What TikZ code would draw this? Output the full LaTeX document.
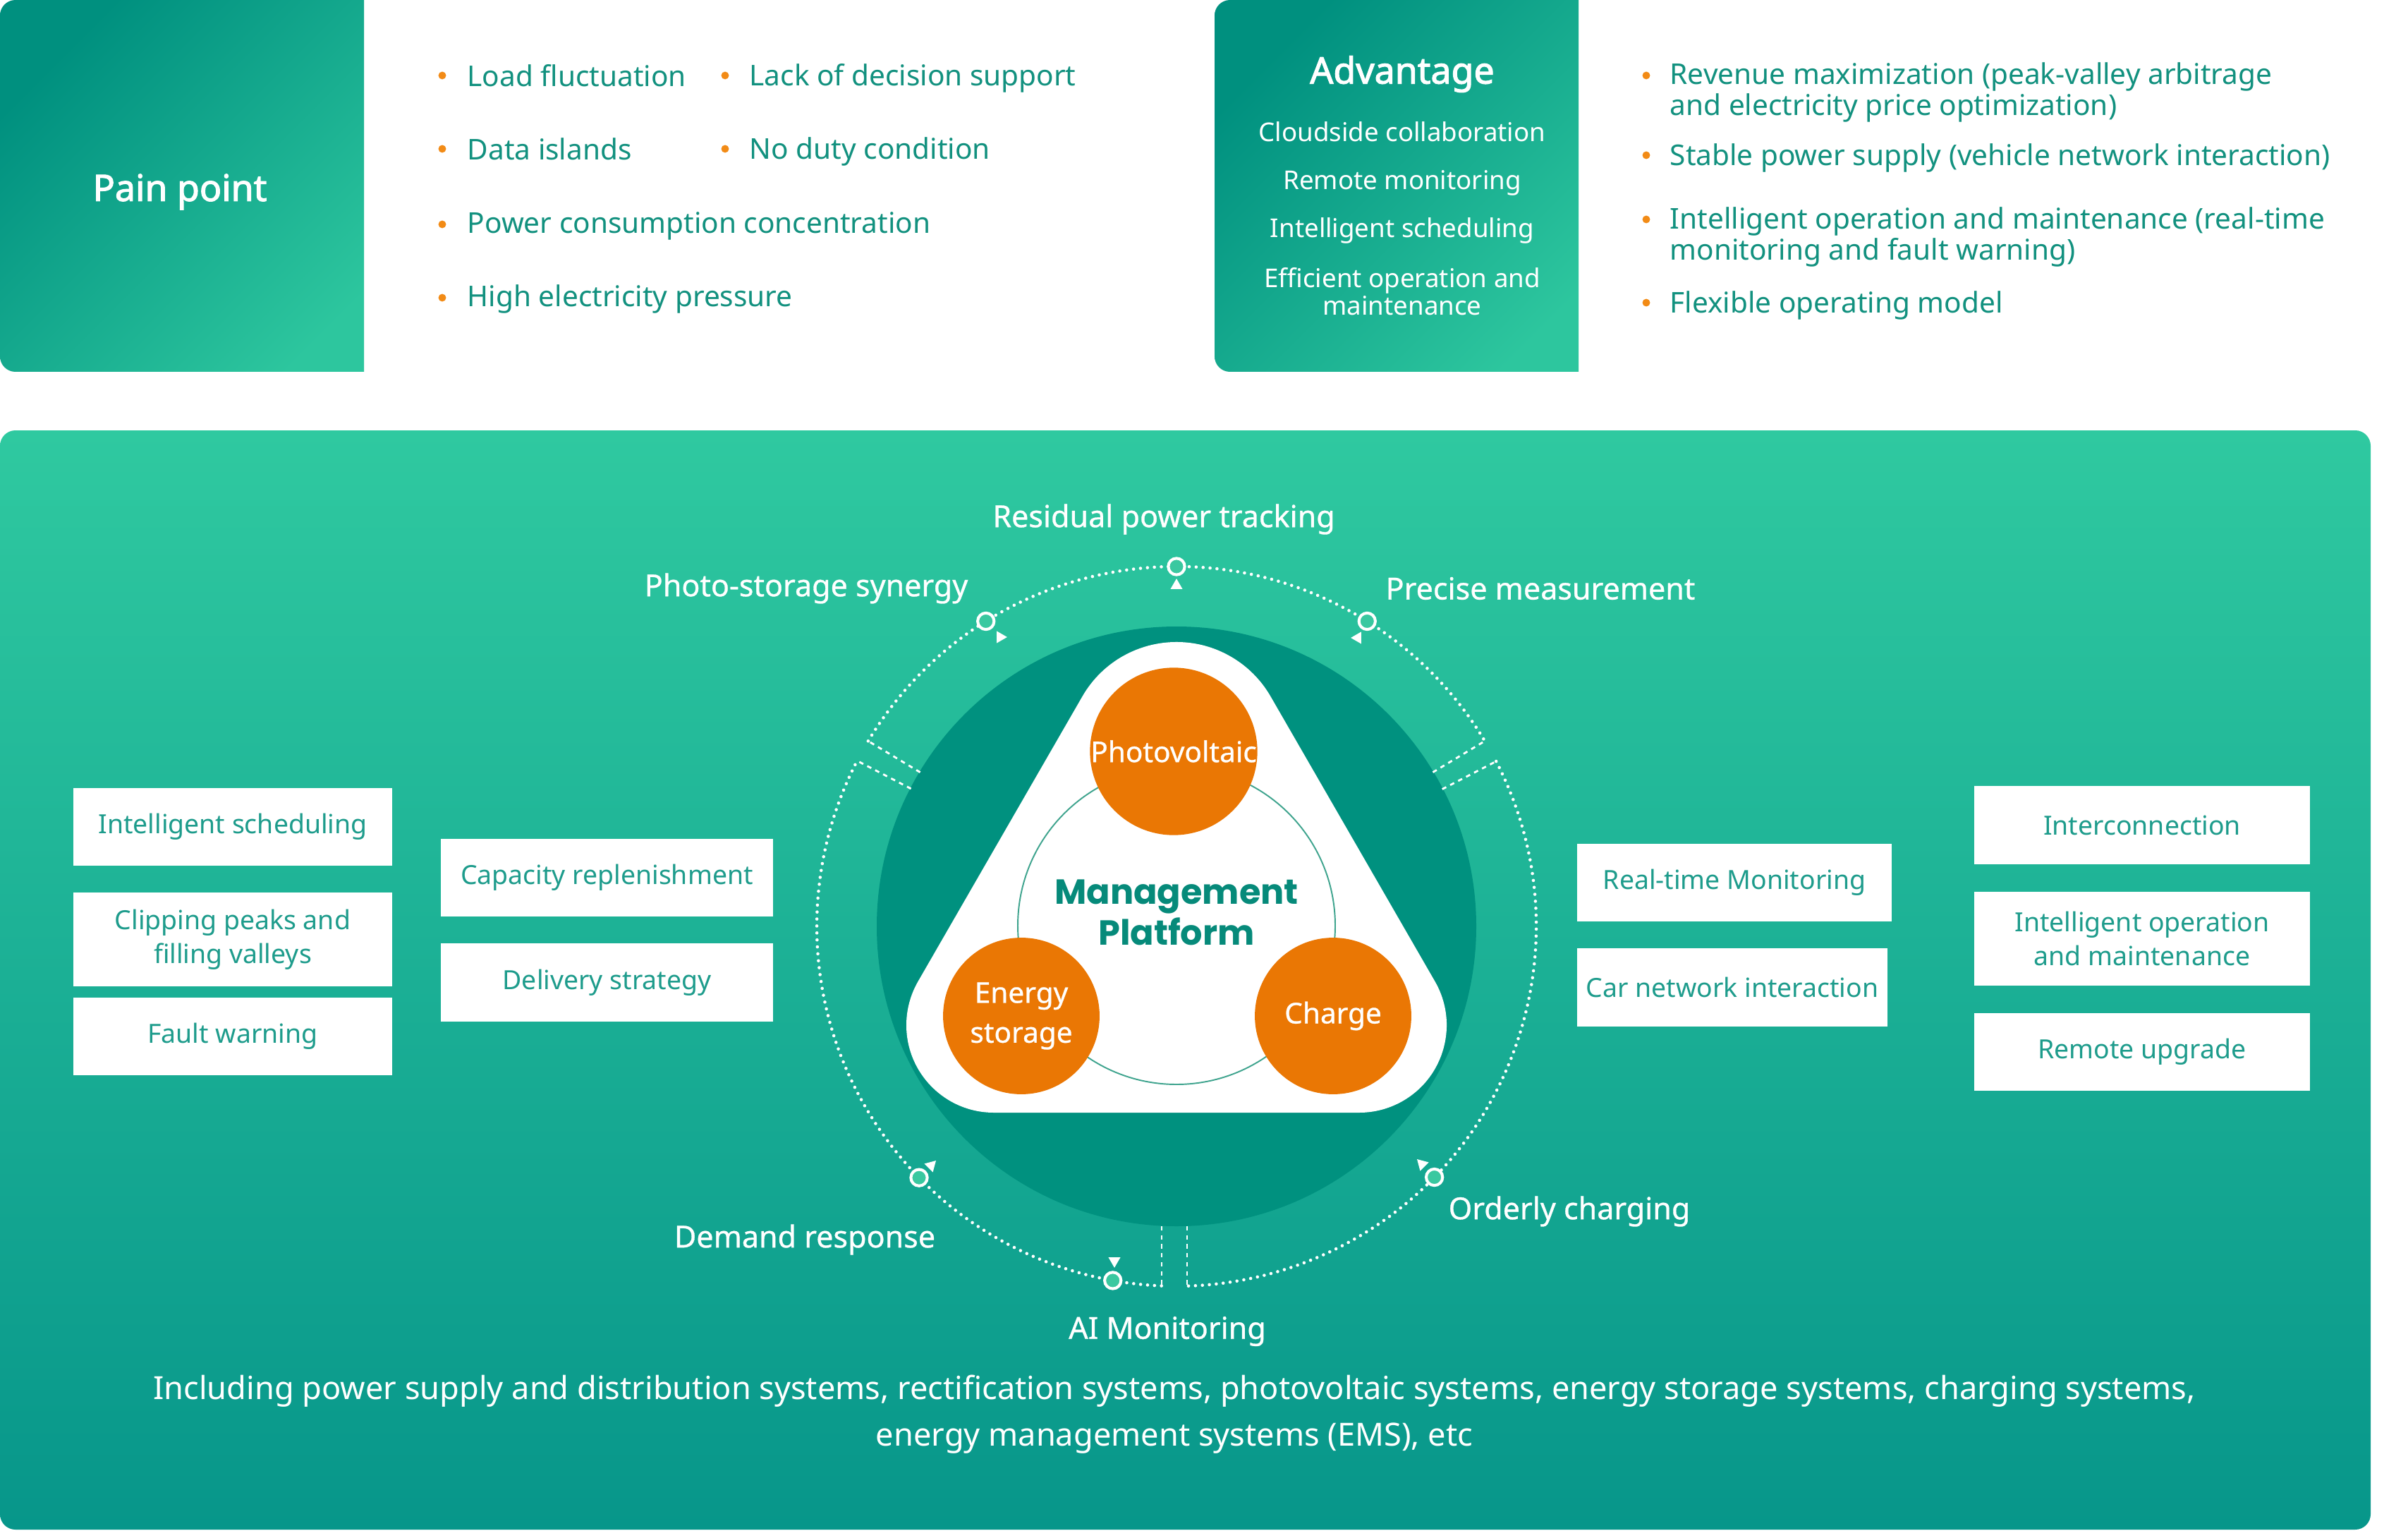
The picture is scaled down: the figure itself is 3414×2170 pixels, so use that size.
\documentclass[tikz,border=0pt]{standalone}
\usepackage{fontspec}
\setmainfont{Noto Sans}
\newfontfamily\headfont{Noto Sans}[FakeBold=2.2]
\newfontfamily\medfont{Noto Sans}[FakeBold=0.7]
\newfontfamily\mgmtfont{Poppins}
\usetikzlibrary{shapes.geometric}
\definecolor{tealdark}{HTML}{00907F}
\definecolor{teallight}{HTML}{2DC69E}
\definecolor{paneltop}{HTML}{2FC9A0}
\definecolor{panelbot}{HTML}{07968A}
\definecolor{circdark}{HTML}{00917F}
\definecolor{orangec}{HTML}{EA7704}
\definecolor{bulletc}{HTML}{F28B16}
\definecolor{txtteal}{HTML}{12917F}
\definecolor{boxteal}{HTML}{1E9C8C}
\definecolor{mgmt}{HTML}{068A7A}
\definecolor{thinring}{HTML}{3FA48E}
\definecolor{dotfill}{HTML}{3AC8A0}
\begin{document}
\begin{tikzpicture}[x=0.2835pt,y=-0.2835pt,
  headtxt/.style={inner sep=0,text=white,font=\headfont\fontsize{14.7}{17}\selectfont},
  advtxt/.style={inner sep=0,text=white,font=\fontsize{10.4}{11.1}\selectfont,align=center},
  btxt/.style={anchor=west,inner sep=0,text=txtteal,font=\fontsize{11.5}{11.1}\selectfont},
  bdot/.style={circle,fill=bulletc,inner sep=0,minimum size=3.1pt},
  ringdot/.style={white,line width=1.3pt,line cap=round,dash pattern=on 0pt off 2.8pt},
  ringdash/.style={white,line width=0.8pt,dash pattern=on 1.8pt off 1.8pt},
  ringnode/.style={circle,draw=white,line width=1.15pt,fill=dotfill,minimum size=6.6pt,inner sep=0},
  tri/.style={regular polygon,regular polygon sides=3,fill=white,inner sep=0,minimum size=5.6pt},
  orb/.style={circle,fill=orangec,minimum size=62.9pt,inner sep=0,text=white,font=\medfont\fontsize{11.5}{16}\selectfont,align=center},
  ringlbl/.style={inner sep=0,text=white,font=\medfont\fontsize{12.2}{14}\selectfont},
  wbox/.style={fill=white,inner sep=0,text=boxteal,font=\fontsize{10.6}{13.6}\selectfont,align=center},
  bottomtxt/.style={inner sep=0,text=white,font=\fontsize{12.8}{18.7}\selectfont,align=center}]
\useasboundingbox (0,0) rectangle (3414,2170);
\fill[white] (0,0) rectangle (3414,2170);

% ---------- top: pain point ----------
\begin{scope}
  \clip (0,0) rectangle (516,527);
  \shade[top color=tealdark,bottom color=teallight,shading angle=45,rounded corners=6.2pt] (0,0) rectangle (570,527);
\end{scope}
\node[headtxt] (pain) at (255,272) {Pain point};

\node[bdot] (pd1) at (627,107) {}; \node[btxt] (pt1) at (662,107) {Load fluctuation};
\node[bdot] (pd2) at (1028,107) {}; \node[btxt] (pt2) at (1062,111) {Lack of decision support};
\node[bdot] (pd3) at (627,211) {}; \node[btxt] (pt3) at (662,211) {Data islands};
\node[bdot] (pd4) at (1028,211) {}; \node[btxt] (pt4) at (1062,215) {No duty condition};
\node[bdot] (pd5) at (627,318) {}; \node[btxt] (pt5) at (662,320) {Power consumption concentration};
\node[bdot] (pd6) at (627,422) {}; \node[btxt] (pt6) at (662,424) {High electricity pressure};

% ---------- top: advantage ----------
\begin{scope}
  \clip (1722,0) rectangle (2238,527);
  \shade[top color=tealdark,bottom color=teallight,shading angle=45,rounded corners=6.2pt] (1722,0) rectangle (2290,527);
\end{scope}
\node[headtxt] (adv) at (1988,105) {Advantage};
\node[advtxt] (adv1) at (1988,187) {Cloudside collaboration};
\node[advtxt] (adv2) at (1988,259) {Remote monitoring};
\node[advtxt] (adv3) at (1988,327) {Intelligent scheduling};
\node[advtxt] (adv4) at (1988,413) {Efficient operation and\\maintenance};

\node[bdot] (ad1) at (2334,107) {};
\node[btxt,align=left] (at1) at (2367,131) {Revenue maximization (peak-valley arbitrage\\and electricity price optimization)};
\node[bdot] (ad2) at (2334,220) {};
\node[btxt] (at2) at (2367,224) {Stable power supply (vehicle network interaction)};
\node[bdot] (ad3) at (2334,311) {};
\node[btxt,align=left] (at3) at (2367,336) {Intelligent operation and maintenance (real-time\\monitoring and fault warning)};
\node[bdot] (ad4) at (2334,429) {};
\node[btxt] (at4) at (2367,433) {Flexible operating model};

% ---------- bottom panel ----------
\shade[top color=paneltop,bottom color=panelbot,rounded corners=6.2pt] (0,610) rectangle (3361,2168);

% dark disc
\fill[circdark] (1668,1313) circle[radius=425];

% dotted ring segments
\draw[ringdot] (1668,1313) ++(-149:510) arc[start angle=-149,end angle=-31,radius=510];
\draw[ringdot] (1668,1313) ++(-267.6:510) arc[start angle=-267.6,end angle=-152.6,radius=510];
\draw[ringdot] (1668,1313) ++(-27.3:510) arc[start angle=-27.3,end angle=88.3,radius=510];
% radial dashed breaks
\draw[ringdash] (1668,1313) ++(-149:424) -- ++(-149:86);
\draw[ringdash] (1668,1313) ++(-152.6:424) -- ++(-152.6:86);
\draw[ringdash] (1668,1313) ++(-31:424) -- ++(-31:86);
\draw[ringdash] (1668,1313) ++(-27.3:424) -- ++(-27.3:86);
\draw[ringdash] (1647,1738) -- (1647,1822);
\draw[ringdash] (1683,1738) -- (1683,1822);

% ring nodes
\path (1668,1313) ++(-90:510) node[ringnode] (rn1) {};
\path (1668,1313) ++(-122:510) node[ringnode] (rn2) {};
\path (1668,1313) ++(-58:510) node[ringnode] (rn3) {};
\path (1668,1313) ++(-224.3:510) node[ringnode] (rn4) {};
\path (1668,1313) ++(-259.8:510) node[ringnode] (rn5) {};
\path (1668,1313) ++(-315.8:510) node[ringnode] (rn6) {};
% small triangles
\node[tri] (tr1) at (1668,830) {};
\node[tri,rotate=-90] (tr2) at (1418,903) {};
\node[tri,rotate=90] (tr3) at (1925,904) {};
\node[tri,rotate=-45] (tr4) at (1320,1652) {};
\node[tri,rotate=45] (tr5) at (2016,1650) {};
\node[tri,rotate=180] (tr6) at (1580,1787) {};

% ring labels
\node[ringlbl] (l1) at (1650,736) {Residual power tracking};
\node[ringlbl] (l2) at (1143,834) {Photo-storage synergy};
\node[ringlbl] (l3) at (2184,834) {Precise measurement};
\node[ringlbl] (l4) at (1141,1757) {Demand response};
\node[ringlbl] (l5) at (1655,1887) {AI Monitoring};
\node[ringlbl] (l6) at (2225,1717) {Orderly charging};

% white rounded triangle
\fill[white] (1534.6,987) arc[start angle=-150,end angle=-30,radius=154]
  -- (2034.4,1391) arc[start angle=-30,end angle=90,radius=124]
  -- (1409,1577) arc[start angle=90,end angle=210,radius=124] -- cycle;

% thin ring and orange discs
\draw[thinring,line width=0.55pt] (1668,1312) circle[radius=225];
\node[orb] (pv) at (1664,1065) {Photovoltaic};
\node[orb] (es) at (1448,1440) {Energy\\storage};
\node[orb] (ch) at (1890,1440) {Charge};
\node[inner sep=0,text=mgmt,align=center,font=\mgmtfont\bfseries\fontsize{14}{16.5}\selectfont] (mp) at (1668,1293) {Management\\Platform};

% side boxes
\node[wbox,minimum width=128.1pt,minimum height=31.2pt] (lb1) at (330,1172) {Intelligent scheduling};
\node[wbox,minimum width=128.1pt,minimum height=37.7pt] (lb2) at (330,1331.5) {Clipping peaks and\\filling valleys};
\node[wbox,minimum width=128.1pt,minimum height=31.2pt] (lb3) at (330,1469) {Fault warning};
\node[wbox,minimum width=133.5pt,minimum height=31.2pt] (lb4) at (860.5,1244) {Capacity replenishment};
\node[wbox,minimum width=133.5pt,minimum height=31.5pt] (lb5) at (860.5,1392.5) {Delivery strategy};
\node[wbox,minimum width=126.4pt,minimum height=31.2pt] (rb1) at (2459,1251) {Real-time Monitoring};
\node[wbox,minimum width=124.7pt,minimum height=31.5pt] (rb2) at (2456,1399.5) {Car network interaction};
\node[wbox,minimum width=134.9pt,minimum height=31.5pt] (rb3) at (3037,1169.5) {Interconnection};
\node[wbox,minimum width=134.9pt,minimum height=37.7pt] (rb4) at (3037,1330.5) {Intelligent operation\\and maintenance};
\node[wbox,minimum width=134.9pt,minimum height=31.2pt] (rb5) at (3037,1491) {Remote upgrade};

% bottom text
\node[bottomtxt] (incl) at (1665,2005) {Including power supply and distribution systems, rectification systems, photovoltaic systems, energy storage systems, charging systems,\\energy management systems (EMS), etc};
\end{tikzpicture}
\end{document}
